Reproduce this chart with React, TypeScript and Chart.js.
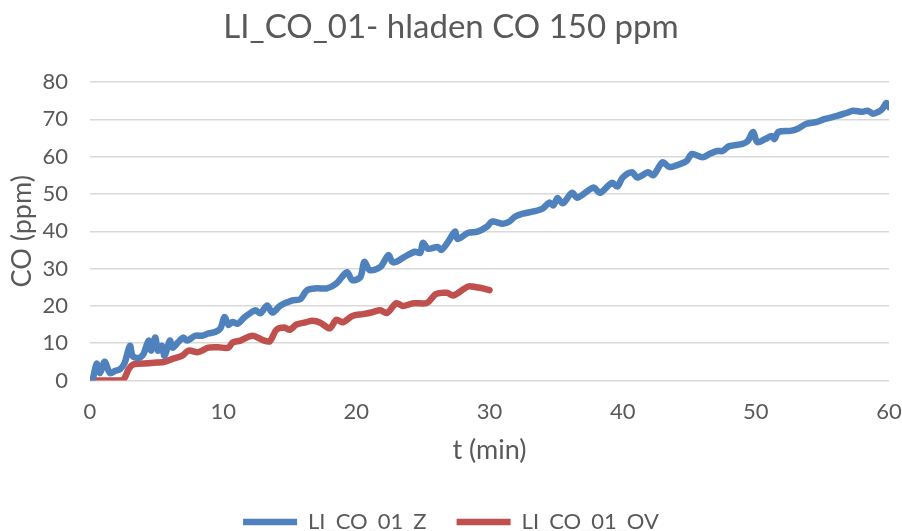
import React, { useEffect, useRef } from "react";
import { Chart, registerables } from "chart.js";

Chart.register(...registerables);

const chartTitle = "LI_CO_01- hladen CO 150 ppm";
const xAxisTitle = "t (min)";
const yAxisTitle = "CO (ppm)";
const seriesZName = "LI_CO_01_Z";
const seriesOVName = "LI_CO_01_OV";

const xMin = 0;
const xMax = 60;
const xStep = 10;
const yMin = 0;
const yMax = 80;
const yStep = 10;

const tZ = [
  0, 0.2, 0.5, 0.75, 1.1, 1.5, 1.9, 2.25, 2.6, 3.0, 3.2, 3.6, 4.0, 4.4, 4.6, 4.9, 5.1, 5.4, 5.6, 6.0,
  6.2, 6.6, 7.0, 7.3, 7.9, 8.4, 8.9, 9.4, 9.8, 10.1, 10.4, 10.7, 11.1, 11.6, 12.4, 12.8, 13.3, 13.7,
  14.3, 15.2, 15.8, 16.3, 17.0, 17.8, 18.5, 19.3, 19.7, 20.3, 20.6, 21.0, 21.8, 22.4, 22.7, 23.0,
  23.6, 24.4, 24.8, 25.0, 25.4, 26.1, 26.4, 26.9, 27.4, 27.6, 28.4, 29.1, 29.8, 30.2, 31.0, 31.5,
  31.9, 32.5, 33.3, 34.0, 34.5, 34.8, 35.1, 35.5, 36.2, 36.6, 37.8, 38.3, 39.2, 39.6, 40.0, 40.7,
  41.1, 41.9, 42.3, 43.0, 43.5, 44.3, 44.8, 45.2, 46.0, 46.5, 47.1, 47.5, 48.0, 49.0, 49.4, 49.8,
  50.1, 50.7, 51.2, 51.4, 51.7, 52.6, 53.1, 53.8, 54.6, 55.2, 56.1, 56.8, 57.3, 58.0, 58.4, 58.8,
  59.2, 59.5, 59.8, 60.0,
];
const vZ = [
  0, 0.4, 4.5, 2, 5, 2, 2.6, 3, 4.7, 9.3, 6.6, 6, 7, 10.7, 8, 11.5, 8, 9.3, 6.6, 10.7,
  8.8, 10.2, 11.5, 10.7, 12, 12, 12.6, 13, 14, 17, 14.9, 15.7, 15.2, 16.9, 18.8, 18, 20.1, 18.2,
  20.1, 21.5, 21.8, 24.2, 24.7, 24.7, 26, 29, 26.9, 27.7, 31.8, 29.6, 30.4, 33.6, 31.8, 31.8,
  33.1, 34.5, 34.2, 36.9, 35.3, 35.8, 35, 37.2, 39.9, 37.9, 39.6, 39.9, 41.2, 42.6, 42, 42.6,
  43.9, 44.7, 45.3, 46.1, 47.7, 46.9, 48.9, 47.5, 50.3, 49, 51.7, 50.3, 53, 52, 54.4, 55.8,
  54.4, 55.8, 55, 58.5, 57.2, 58, 58.8, 60.7, 59.8, 60.7, 61.5, 61.5, 62.8, 63.4, 64.2, 66.6,
  63.9, 64.7, 65.5, 64.7, 66.6, 66.9, 67.4, 68.8, 69.3, 70.1, 70.9, 71.7, 72.3, 72, 72.3, 71.5,
  72, 72.8, 74.4, 73.3,
];

const tOV = [
  0, 0.5, 1, 1.5, 2, 2.5, 2.9, 3.2, 3.6, 4.4, 5.0, 5.6, 6.2, 6.9, 7.4, 8.1, 8.9, 9.6, 10.4, 10.7,
  11.3, 12.2, 13.0, 13.5, 14.0, 14.6, 15.0, 15.5, 16.2, 16.7, 17.3, 18.0, 18.5, 19.0, 19.7, 20.5,
  21.2, 21.8, 22.3, 23.0, 23.5, 24.3, 25.3, 26.0, 26.8, 27.3, 28.4, 29.0, 29.5, 30.0,
];
const vOV = [
  0, 0, 0, 0, 0, 0.2, 3, 4.2, 4.5, 4.6, 4.8, 5, 5.8, 6.6, 8, 7.6, 8.8, 8.9, 8.8, 10.2,
  10.7, 12, 10.8, 10.5, 13.6, 14.2, 13.6, 15, 15.6, 16, 15.5, 14, 16.3, 15.6, 17.3, 17.8,
  18.3, 18.8, 18.1, 20.7, 20, 20.7, 20.8, 23.2, 23.5, 22.8, 25.2, 25, 24.7, 24.2,
];

const textColor = "#595959";
const gridColor = "#d9d9d9";
const blue = "#4f81bd";
const red = "#c0504d";
const fontFamily = "Lato, 'Liberation Sans', sans-serif";

export default function App() {
  const canvasRef = useRef<HTMLCanvasElement | null>(null);

  useEffect(() => {
    if (!canvasRef.current) return;
    const zData = tZ.map((t, i) => ({ x: t, y: vZ[i] }));
    const ovData = tOV.map((t, i) => ({ x: t, y: vOV[i] }));
    const chart = new Chart(canvasRef.current, {
      type: "line",
      data: {
        datasets: [
          {
            label: seriesZName,
            data: zData,
            borderColor: blue,
            backgroundColor: blue,
            borderWidth: 6.5,
            pointRadius: 0,
            tension: 0.3,
            borderCapStyle: "round",
            borderJoinStyle: "round",
          },
          {
            label: seriesOVName,
            data: ovData,
            borderColor: red,
            backgroundColor: red,
            borderWidth: 6.5,
            pointRadius: 0,
            tension: 0.3,
            borderCapStyle: "round",
            borderJoinStyle: "round",
          },
        ],
      },
      options: {
        animation: false,
        responsive: true,
        maintainAspectRatio: false,
        layout: { padding: { left: 0, right: 0, top: 0, bottom: 0 } },
        plugins: {
          title: {
            display: true,
            text: chartTitle,
            color: textColor,
            font: { family: fontFamily, size: 33, weight: "normal" },
            padding: { top: 8, bottom: 34.4 },
          },
          legend: {
            position: "bottom",
            labels: {
              color: textColor,
              font: { family: fontFamily, size: 22 },
              usePointStyle: true,
              pointStyle: "line",
              pointStyleWidth: 54,
              padding: 30,
            },
          },
          tooltip: { enabled: false },
        },
        scales: {
          x: {
            type: "linear",
            min: xMin,
            max: xMax,
            ticks: {
              stepSize: xStep,
              color: textColor,
              font: { family: fontFamily, size: 22 },
              padding: 18,
              maxRotation: 0,
            },
            grid: { display: false, drawTicks: false },
            border: { display: false },
            title: {
              display: true,
              text: xAxisTitle,
              color: textColor,
              font: { family: fontFamily, size: 27 },
              padding: { top: 0, bottom: 15 },
            },
            afterFit: (scale: any) => {
              scale.height = 100.5;
              scale.paddingRight = 13;
              scale.paddingLeft = 12;
            },
          },
          y: {
            type: "linear",
            min: yMin,
            max: yMax,
            ticks: {
              stepSize: yStep,
              color: textColor,
              font: { family: fontFamily, size: 22 },
              padding: 22,
            },
            grid: { color: gridColor, lineWidth: 1.5, drawTicks: false },
            border: { display: false },
            title: {
              display: true,
              text: yAxisTitle,
              color: textColor,
              font: { family: fontFamily, size: 27 },
              padding: { top: 6, bottom: 0 },
            },
            afterFit: (scale: any) => {
              scale.width = 90;
            },
          },
        },
      },
    });
    return () => chart.destroy();
  }, []);

  return (
    <div style={{ position: "fixed", left: 0, top: 0, width: 902, height: 543, background: "#fff" }}>
      <canvas ref={canvasRef} />
    </div>
  );
}
